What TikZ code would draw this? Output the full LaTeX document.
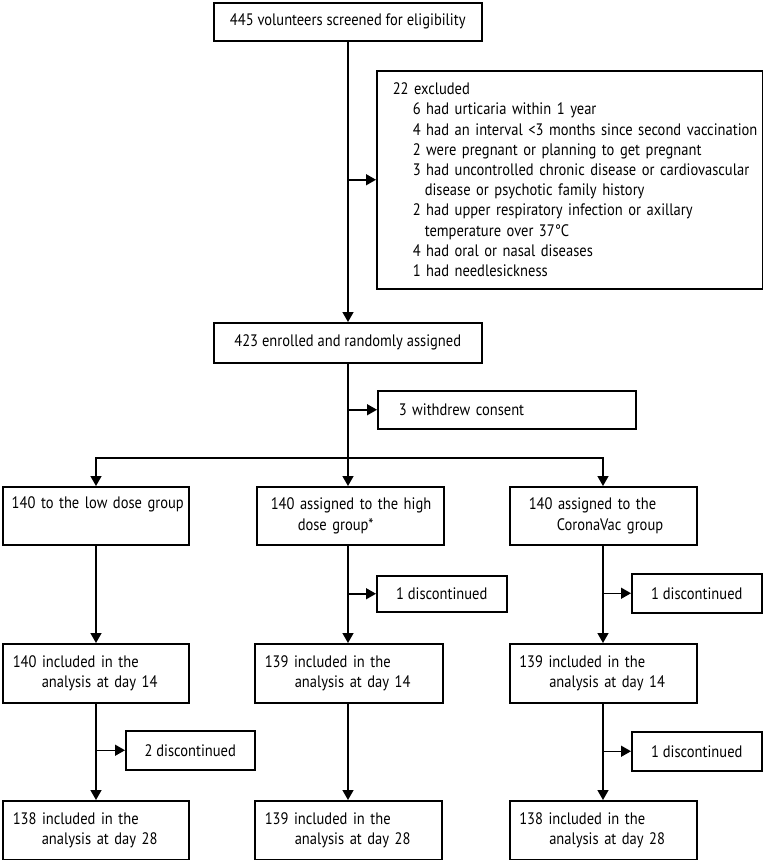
\documentclass[tikz,border=0pt]{standalone}
\usepackage{fontspec}
\setmainfont{PT Sans}[FakeStretch=0.875]
\usetikzlibrary{arrows.meta}
\newcommand\oneline[1]{\mbox{#1}}
\begin{document}
\begin{tikzpicture}[x=1pt,y=-1pt,
  font=\fontsize{16.6}{20.2}\selectfont,
  box/.style={draw, line width=1.5pt, anchor=north west, inner ysep=0pt},
  cbox/.style={box, align=center, inner xsep=0pt},
  lbox/.style={box, align=left},
  conn/.style={line width=1.5pt},
  arr/.style={line width=1.5pt, -{Triangle[length=10pt,width=11pt]}}]
\useasboundingbox (0,0) rectangle (763,860);
\fill[white] (0,0) rectangle (763,860);

% boxes
\node[cbox, minimum width=268, minimum height=38] (A) at (213,2) {445 volunteers screened for eligibility};
\node[lbox, minimum height=218, text width=354, inner xsep=16] (E) at (376,70) {%
\oneline{22 excluded}\\
\oneline{\hspace*{20pt}6 had urticaria within 1 year}\\
\oneline{\hspace*{20pt}4 had an interval <3 months since second vaccination}\\
\oneline{\hspace*{20pt}2 were pregnant or planning to get pregnant}\\
\oneline{\hspace*{20pt}3 had uncontrolled chronic disease or cardiovascular}\\
\oneline{\hspace*{32pt}disease or psychotic family history}\\
\oneline{\hspace*{20pt}2 had upper respiratory infection or axillary}\\
\oneline{\hspace*{32pt}temperature over 37°C}\\
\oneline{\hspace*{20pt}4 had oral or nasal diseases}\\
\oneline{\hspace*{20pt}1 had needlesickness}};
\node[cbox, minimum width=268, minimum height=40] (B) at (213,322) {423 enrolled and randomly assigned};
\node[lbox, minimum height=38, text width=216, inner xsep=21] (W) at (377,390) {3 withdrew consent};

\node[lbox, minimum height=58, text width=168, inner xsep=9] (G1) at (2,486) {\oneline{140 to the low dose group}\\\oneline{\strut}};
\node[lbox, minimum height=58, text width=159, inner xsep=14] (G2) at (256,486) {\oneline{140 assigned to the high}\\\oneline{\hspace*{27pt}dose group*}};
\node[lbox, minimum height=58, text width=149, inner xsep=19] (G3) at (509,486) {\oneline{140 assigned to the}\\\oneline{\hspace*{28pt}CoronaVac group}};

\node[cbox, minimum width=130, minimum height=36] (D1) at (376,575) {1 discontinued};
\node[cbox, minimum width=130, minimum height=39] (D2) at (631,573) {1 discontinued};

\node[lbox, minimum height=59, text width=166, inner xsep=10] (L14) at (2,643) {\oneline{140 included in the}\\\oneline{\hspace*{29pt}analysis at day 14}};
\node[lbox, minimum height=59, text width=168, inner xsep=10] (M14) at (254,643) {\oneline{139 included in the}\\\oneline{\hspace*{30pt}analysis at day 14}};
\node[lbox, minimum height=59, text width=168, inner xsep=9.5] (R14) at (509,643) {\oneline{139 included in the}\\\oneline{\hspace*{30pt}analysis at day 14}};

\node[cbox, minimum width=129, minimum height=39] (D3) at (125,730) {2 discontinued};
\node[cbox, minimum width=130, minimum height=39] (D4) at (631,731) {1 discontinued};

\node[lbox, minimum height=59, text width=166, inner xsep=10] (L28) at (2,800) {\oneline{138 included in the}\\\oneline{\hspace*{29pt}analysis at day 28}};
\node[lbox, minimum height=59, text width=167, inner xsep=10] (M28) at (254,800) {\oneline{139 included in the}\\\oneline{\hspace*{30pt}analysis at day 28}};
\node[lbox, minimum height=59, text width=168, inner xsep=9.5] (R28) at (509,800) {\oneline{138 included in the}\\\oneline{\hspace*{30pt}analysis at day 28}};

% connectors
\coordinate (split) at (348,458);
\coordinate (cL) at (96,0);
\coordinate (cR) at (603,0);
\draw[arr] (A.south -| split) -- (B.north -| split);
\draw[arr] (split |- E.west) -- (E.west);
\draw[conn] (B.south -| split) -- (split);
\draw[arr] (split) -- (split |- G2.north);
\draw[arr] (split) -| (G1.north -| cL);
\draw[arr] (split) -| (G3.north -| cR);
\draw[arr] (split |- W.west) -- (W.west);

\draw[arr] (G1.south -| cL) -- (L14.north -| cL);
\draw[arr] (G2.south -| split) -- (M14.north -| split);
\draw[arr] (split |- D1.west) -- (D1.west);
\draw[arr] (G3.south -| cR) -- (R14.north -| cR);
\draw[arr] (cR |- D2.west) -- (D2.west);

\draw[arr] (L14.south -| cL) -- (L28.north -| cL);
\draw[arr] (cL |- D3.west) -- (D3.west);
\draw[arr] (M14.south -| split) -- (M28.north -| split);
\draw[arr] (R14.south -| cR) -- (R28.north -| cR);
\draw[arr] (cR |- D4.west) -- (D4.west);
\end{tikzpicture}
\end{document}
